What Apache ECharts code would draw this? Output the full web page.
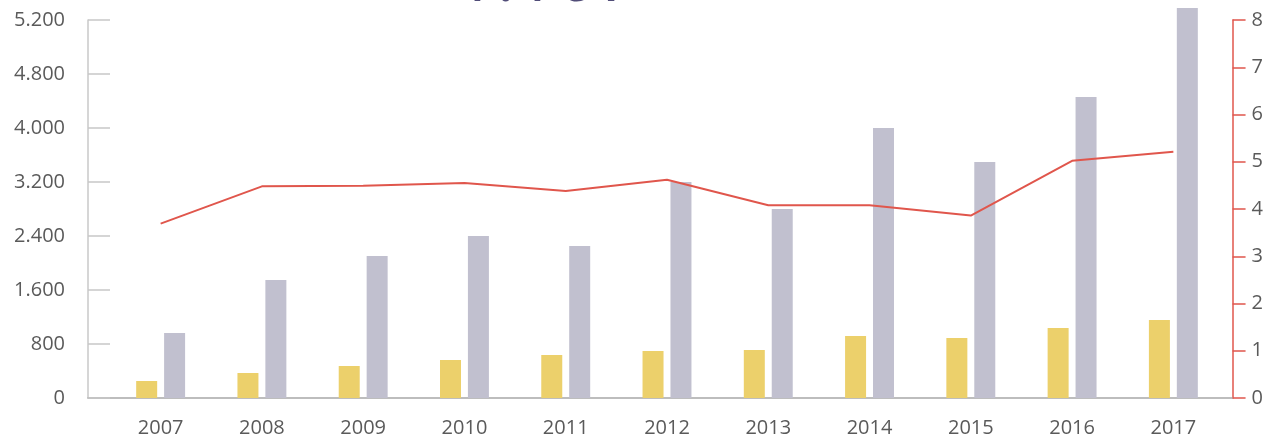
<!DOCTYPE html>
<html>
<head>
<meta charset="utf-8">
<script src="https://cdn.jsdelivr.net/npm/echarts@6/dist/echarts.min.js"></script>
<style>
  html, body { margin: 0; padding: 0; background: #fff; }
  #main { width: 1266px; height: 439px; }
</style>
</head>
<body>
<div id="main"></div>
<script>
const years = ['2007', '2008', '2009', '2010', '2011', '2012', '2013', '2014', '2015', '2016', '2017'];
const yellowValues = [252, 370, 474, 563, 637, 696, 711, 919, 889, 1037, 1156];
const greyValues = [963, 1748, 2104, 2400, 2252, 3200, 2800, 4000, 3496, 4459, 5778];
const lineValues = [3.69, 4.48, 4.49, 4.55, 4.38, 4.62, 4.08, 4.08, 3.86, 5.02, 5.21];
const leftTickLabels = ['0', '800', '1.600', '2.400', '3.200', '4.000', '4.800', '5.200'];
const titleText = '1.107';

window.onload = function () {
  const chartDom = document.getElementById('main');
  const myChart = echarts.init(chartDom);
  const font = 'Open Sans';
  const labelColor = '#5a5a5a';

  const option = {
    animation: false,
    title: {
      text: titleText,
      left: 455,
      top: -56,
      padding: 0,
      textStyle: { fontFamily: font, fontSize: 72, fontWeight: 'normal', color: '#514d78' }
    },
    grid: [
      // frame grid for the visible axes
      { left: 88, right: 30, top: 20, bottom: 41 },
      // data grid
      { left: 110, right: 42, top: 20, bottom: 41 }
    ],
    xAxis: [
      {
        gridIndex: 0, type: 'value', min: 0, max: 1,
        axisLine: { show: true, onZero: false, lineStyle: { color: '#a8a8a8', width: 1.5 } },
        axisTick: { show: false }, axisLabel: { show: false }, splitLine: { show: false }
      },
      {
        gridIndex: 1, type: 'category', data: years,
        axisLine: { show: false }, axisTick: { show: false }, splitLine: { show: false },
        axisLabel: { margin: 20, fontFamily: font, fontSize: 20, color: labelColor }
      }
    ],
    yAxis: [
      {
        gridIndex: 0, type: 'value', min: 0, max: 5600, interval: 800, position: 'left',
        axisLine: { show: true, onZero: false, lineStyle: { color: '#c8c8c8', width: 1.5 } },
        axisTick: { show: true, inside: true, length: 22, lineStyle: { color: '#c8c8c8', width: 1.5 } },
        splitLine: { show: false },
        axisLabel: {
          margin: 23, fontFamily: font, fontSize: 20, color: labelColor,
          formatter: function (v) { return leftTickLabels[Math.round(v / 800)]; }
        }
      },
      {
        gridIndex: 0, type: 'value', min: 0, max: 8, interval: 1, position: 'right',
        axisLine: { show: true, onZero: false, lineStyle: { color: '#e0564c', width: 1.5 } },
        axisTick: { show: true, length: 13, lineStyle: { color: '#e0564c', width: 1.5 } },
        splitLine: { show: false },
        axisLabel: { margin: 19, fontFamily: font, fontSize: 20, color: labelColor }
      },
      { gridIndex: 1, type: 'value', min: 0, max: 5600, show: false, splitLine: { show: false } },
      { gridIndex: 1, type: 'value', min: 0, max: 8, show: false, splitLine: { show: false } }
    ],
    series: [
      {
        type: 'bar', xAxisIndex: 1, yAxisIndex: 2, data: yellowValues,
        barWidth: 21, barGap: '33%', itemStyle: { color: '#ecd06b' }
      },
      {
        type: 'bar', xAxisIndex: 1, yAxisIndex: 2, data: greyValues, clip: false,
        barWidth: 21, itemStyle: { color: '#c1c0cf' }
      },
      {
        type: 'line', xAxisIndex: 1, yAxisIndex: 3, data: lineValues, z: 5,
        symbol: 'none', lineStyle: { color: '#e0564c', width: 2 }
      }
    ]
  };

  option && myChart.setOption(option);
};
</script>
</body>
</html>
